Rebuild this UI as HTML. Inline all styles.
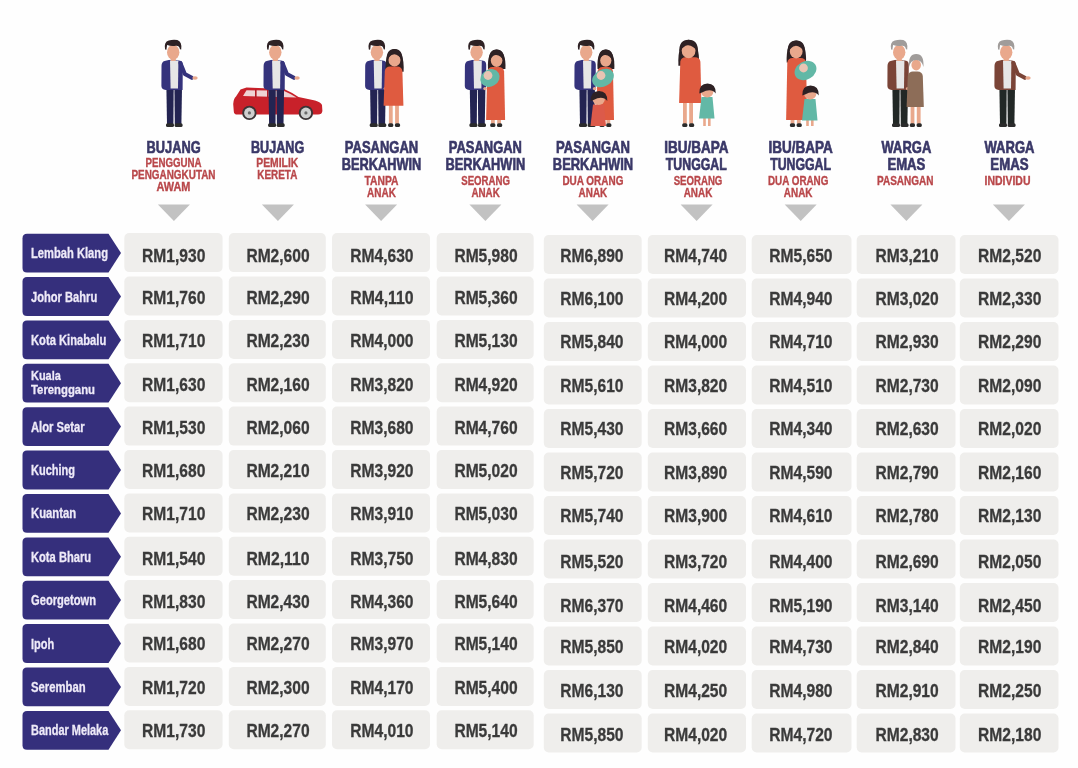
<!DOCTYPE html>
<html><head><meta charset="utf-8"><title>Kos Sara Hidup</title>
<style>
html,body{margin:0;padding:0;background:#ffffff;}
body{width:1078px;height:768px;overflow:hidden;position:relative;}
svg{position:absolute;left:0;top:0;filter:blur(0.35px);}
text{font-family:"Liberation Sans", sans-serif;}
</style></head><body>
<svg width="1078" height="768" viewBox="0 0 1078 768">
<rect width="1078" height="768" fill="#fefefe"/>
<path d="M166.4,88 L173.7,88 L173.4,124 L167.0,124 Z" fill="#232452"/><path d="M174.4,88 L182.0,88 L181.4,124 L174.8,124 Z" fill="#232452"/><rect x="166.0" y="123.2" width="8" height="3.8" rx="1.6" fill="#2b2b2b"/><rect x="174.6" y="123.2" width="8" height="3.8" rx="1.6" fill="#2b2b2b"/><path d="M164.6,61 Q172.8,58.5 181.0,61 Q183.0,62 182.8,66 L182.6,90 L165.8,90 Q161.4,89.5 161.4,86 L161.5,66 Q161.6,61.8 164.6,61 Z" fill="#35337c"/><path d="M170.0,60.5 L178.4,60.5 L178.0,88.5 L170.6,88.5 Z" fill="#e6e6e6"/><path d="M180.4,63 Q183.3,70 184.8,74 L191.8,77.8" stroke="#35337c" stroke-width="4" fill="none" stroke-linejoin="round" stroke-linecap="round"/><ellipse cx="195.0" cy="78" rx="2.7" ry="1.7" fill="#e9a88c"/><rect x="170.8" y="55" width="5" height="6" fill="#e9a88c"/><ellipse cx="173.2" cy="52.2" rx="6.2" ry="7.4" fill="#e9a88c"/><path d="M165.1,49.6 Q163.6,42 168.8,40.6 Q172.8,39.2 177.3,40 Q182.3,41.5 181.2,49.6 L180.0,49.2 Q179.3,45.5 175.8,45.8 Q170.8,46.4 167.1,45 L166.4,49.8 Z" fill="#2e2124"/><path d="M233.8,111.5 L233.2,104 Q233.5,98.5 236,96.5 L240.5,89.5 L246.5,87.6 L284,89 Q291,92 298.5,97 L315,100.5 Q321,102.3 322,105 L322.4,111 Q322,114.6 318,114.6 L237.5,114.6 Q233.8,114.6 233.8,111.5 Z" fill="#c8212a"/><path d="M243,96 L246.5,90.2 L283.5,90.8 Q290,93.5 296.5,97.6 Z" fill="#efd3d3"/><rect x="255" y="89.5" width="1.6" height="8" fill="#b01c24"/><rect x="267" y="89.5" width="1.6" height="8" fill="#b01c24"/><circle cx="249.4" cy="112.9" r="7.2" fill="#3b3436"/><circle cx="249.4" cy="112.9" r="5.3" fill="#cfcfcf"/><circle cx="249.4" cy="112.9" r="1.6" fill="#6a6a6a"/><circle cx="305.9" cy="112.9" r="7.2" fill="#3b3436"/><circle cx="305.9" cy="112.9" r="5.3" fill="#cfcfcf"/><circle cx="305.9" cy="112.9" r="1.6" fill="#6a6a6a"/><path d="M268.5,88 L275.8,88 L275.5,124 L269.1,124 Z" fill="#232452"/><path d="M276.5,88 L284.1,88 L283.5,124 L276.9,124 Z" fill="#232452"/><rect x="268.1" y="123.2" width="8" height="3.8" rx="1.6" fill="#2b2b2b"/><rect x="276.7" y="123.2" width="8" height="3.8" rx="1.6" fill="#2b2b2b"/><path d="M266.7,61 Q274.9,58.5 283.1,61 Q285.1,62 284.9,66 L284.7,90 L267.9,90 Q263.5,89.5 263.5,86 L263.6,66 Q263.7,61.8 266.7,61 Z" fill="#35337c"/><path d="M272.1,60.5 L280.5,60.5 L280.1,88.5 L272.7,88.5 Z" fill="#e6e6e6"/><path d="M282.5,63 Q285.4,70 286.9,74 L293.9,77.8" stroke="#35337c" stroke-width="4" fill="none" stroke-linejoin="round" stroke-linecap="round"/><ellipse cx="297.1" cy="78" rx="2.7" ry="1.7" fill="#e9a88c"/><rect x="272.9" y="55" width="5" height="6" fill="#e9a88c"/><ellipse cx="275.3" cy="52.2" rx="6.2" ry="7.4" fill="#e9a88c"/><path d="M267.2,49.6 Q265.7,42 270.9,40.6 Q274.9,39.2 279.4,40 Q284.4,41.5 283.3,49.6 L282.1,49.2 Q281.4,45.5 277.9,45.8 Q272.9,46.4 269.2,45 L268.5,49.8 Z" fill="#2e2124"/><path d="M370.1,88 L377.4,88 L377.1,124 L370.7,124 Z" fill="#232452"/><path d="M378.1,88 L385.7,88 L385.1,124 L378.5,124 Z" fill="#232452"/><rect x="369.7" y="123.2" width="8" height="3.8" rx="1.6" fill="#2b2b2b"/><rect x="378.3" y="123.2" width="8" height="3.8" rx="1.6" fill="#2b2b2b"/><path d="M368.3,61 Q376.5,58.5 384.7,61 Q386.7,62 386.5,66 L386.3,90 L369.5,90 Q365.1,89.5 365.1,86 L365.2,66 Q365.3,61.8 368.3,61 Z" fill="#35337c"/><path d="M373.7,60.5 L382.1,60.5 L381.7,88.5 L374.3,88.5 Z" fill="#e6e6e6"/><circle cx="385.3" cy="88.6" r="1.7" fill="#e9a88c"/><rect x="374.5" y="55" width="5" height="6" fill="#e9a88c"/><ellipse cx="376.9" cy="52.2" rx="6.2" ry="7.4" fill="#e9a88c"/><path d="M368.8,49.6 Q367.3,42 372.5,40.6 Q376.5,39.2 381.0,40 Q386.0,41.5 384.9,49.6 L383.7,49.2 Q383.0,45.5 379.5,45.8 Q374.5,46.4 370.8,45 L370.1,49.8 Z" fill="#2e2124"/><rect x="388.9" y="103.8" width="3.8" height="20.0" fill="#e9a88c"/><rect x="395.1" y="103.8" width="3.8" height="20.0" fill="#e9a88c"/><rect x="388.1" y="123.2" width="5.2" height="3.8" rx="1.6" fill="#2b2b2b"/><rect x="394.9" y="123.2" width="5.2" height="3.8" rx="1.6" fill="#2b2b2b"/><path d="M385.6,71.7 Q384.6,49.9 394.5,48.9 Q404.6,49.9 403.6,71.7 Z" fill="#2e2124"/><path d="M384.8,70.9 Q385.5,66.4 390.0,66.4 L397.0,66.4 Q401.8,66.4 402.4,70.9 L403.4,105.8 L383.6,105.8 Z" fill="#df5b40"/><ellipse cx="394.5" cy="59.9" rx="6.0" ry="6.6" fill="#e9a88c"/><path d="M386.6,60.9 Q385.9,48.9 394.5,48.9 Q403.1,48.9 402.4,60.9 Q398.5,53.9 393.5,54.4 Q389.5,54.9 386.6,60.9 Z" fill="#2e2124"/><path d="M469.8,88 L477.1,88 L476.8,124 L470.4,124 Z" fill="#232452"/><path d="M477.8,88 L485.4,88 L484.8,124 L478.2,124 Z" fill="#232452"/><rect x="469.4" y="123.2" width="8" height="3.8" rx="1.6" fill="#2b2b2b"/><rect x="478.0" y="123.2" width="8" height="3.8" rx="1.6" fill="#2b2b2b"/><path d="M468.0,61 Q476.2,58.5 484.4,61 Q486.4,62 486.2,66 L486.0,90 L469.2,90 Q464.8,89.5 464.8,86 L464.9,66 Q465.0,61.8 468.0,61 Z" fill="#35337c"/><path d="M473.4,60.5 L481.8,60.5 L481.4,88.5 L474.0,88.5 Z" fill="#e6e6e6"/><circle cx="485.0" cy="88.6" r="1.7" fill="#e9a88c"/><rect x="474.2" y="55" width="5" height="6" fill="#e9a88c"/><ellipse cx="476.6" cy="52.2" rx="6.2" ry="7.4" fill="#e9a88c"/><path d="M468.5,49.6 Q467.0,42 472.2,40.6 Q476.2,39.2 480.7,40 Q485.7,41.5 484.6,49.6 L483.4,49.2 Q482.7,45.5 479.2,45.8 Q474.2,46.4 470.5,45 L469.8,49.8 Z" fill="#2e2124"/><rect x="491.0" y="118.0" width="3.8" height="5.8" fill="#e9a88c"/><rect x="497.2" y="118.0" width="3.8" height="5.8" fill="#e9a88c"/><rect x="490.2" y="123.2" width="5.2" height="3.8" rx="1.6" fill="#2b2b2b"/><rect x="497.0" y="123.2" width="5.2" height="3.8" rx="1.6" fill="#2b2b2b"/><path d="M488.0,69.0 Q487.0,50.5 496.6,49.5 Q506.4,50.5 505.4,69.0 Z" fill="#2e2124"/><path d="M487.3,71.5 Q488.0,67.0 492.5,67.0 L498.7,67.0 Q503.5,67.0 504.1,71.5 L505.1,120.0 L486.1,120.0 Z" fill="#df5b40"/><ellipse cx="496.6" cy="60.5" rx="5.8" ry="6.4" fill="#e9a88c"/><path d="M489.0,61.5 Q488.3,49.5 496.6,49.5 Q504.9,49.5 504.2,61.5 Q500.6,54.5 495.6,55.0 Q491.6,55.5 489.0,61.5 Z" fill="#2e2124"/><ellipse cx="490.0" cy="78.0" rx="10" ry="8.5" fill="#62b8a6" transform="rotate(-30 490.0 78.0)"/><circle cx="488.0" cy="75.5" r="4.4" fill="#e9c4b3"/><path d="M579.4,88 L586.7,88 L586.4,124 L580.0,124 Z" fill="#232452"/><path d="M587.4,88 L595.0,88 L594.4,124 L587.8,124 Z" fill="#232452"/><rect x="579.0" y="123.2" width="8" height="3.8" rx="1.6" fill="#2b2b2b"/><rect x="587.6" y="123.2" width="8" height="3.8" rx="1.6" fill="#2b2b2b"/><path d="M577.6,61 Q585.8,58.5 594.0,61 Q596.0,62 595.8,66 L595.6,90 L578.8,90 Q574.4,89.5 574.4,86 L574.5,66 Q574.6,61.8 577.6,61 Z" fill="#35337c"/><path d="M583.0,60.5 L591.4,60.5 L591.0,88.5 L583.6,88.5 Z" fill="#e6e6e6"/><circle cx="594.6" cy="88.6" r="1.7" fill="#e9a88c"/><rect x="583.8" y="55" width="5" height="6" fill="#e9a88c"/><ellipse cx="586.2" cy="52.2" rx="6.2" ry="7.4" fill="#e9a88c"/><path d="M578.1,49.6 Q576.6,42 581.8,40.6 Q585.8,39.2 590.3,40 Q595.3,41.5 594.2,49.6 L593.0,49.2 Q592.3,45.5 588.8,45.8 Q583.8,46.4 580.1,45 L579.4,49.8 Z" fill="#2e2124"/><rect x="600.2" y="118.0" width="3.8" height="5.8" fill="#e9a88c"/><rect x="606.4" y="118.0" width="3.8" height="5.8" fill="#e9a88c"/><rect x="599.4" y="123.2" width="5.2" height="3.8" rx="1.6" fill="#2b2b2b"/><rect x="606.2" y="123.2" width="5.2" height="3.8" rx="1.6" fill="#2b2b2b"/><path d="M597.5,69.0 Q596.5,50.5 605.8,49.5 Q615.3,50.5 614.3,69.0 Z" fill="#2e2124"/><path d="M597.5,71.5 Q598.2,67.0 602.7,67.0 L607.6,67.0 Q612.4,67.0 613.0,71.5 L614.0,120.0 L596.3,120.0 Z" fill="#df5b40"/><ellipse cx="605.8" cy="60.5" rx="5.6" ry="6.2" fill="#e9a88c"/><path d="M598.5,61.5 Q597.8,49.5 605.8,49.5 Q613.8,49.5 613.1,61.5 Q609.8,54.5 604.8,55.0 Q600.8,55.5 598.5,61.5 Z" fill="#2e2124"/><ellipse cx="603.0" cy="78.0" rx="11.5" ry="8.5" fill="#62b8a6" transform="rotate(-30 603.0 78.0)"/><circle cx="601.0" cy="75.5" r="4.4" fill="#e9c4b3"/><rect x="594.7" y="121.0" width="2.6" height="5.0" fill="#e9a88c"/><rect x="599.5" y="121.0" width="2.6" height="5.0" fill="#e9a88c"/><path d="M593.0,104.5 L604.0,104.5 L606.0,126.0 L590.5,126.0 Z" fill="#dc5a4a"/><ellipse cx="598.7" cy="99.0" rx="6.2" ry="6" fill="#e9a88c"/><path d="M590.8,101.0 Q590.5,91.0 599.0,91.0 Q607.5,91.0 607.3,101.0 Q602.5,95.0 593.5,100.0 Z" fill="#2e2124"/><rect x="683.0" y="101.0" width="3.8" height="22.8" fill="#e9a88c"/><rect x="689.2" y="101.0" width="3.8" height="22.8" fill="#e9a88c"/><rect x="682.2" y="123.2" width="5.2" height="3.8" rx="1.6" fill="#2b2b2b"/><rect x="689.0" y="123.2" width="5.2" height="3.8" rx="1.6" fill="#2b2b2b"/><path d="M678.4,65.8 Q677.4,40.8 688.6,39.8 Q700.0,40.8 699.0,65.8 Z" fill="#2e2124"/><path d="M680.3,61.8 Q681.0,57.3 685.5,57.3 L695.0,57.3 Q699.8,57.3 700.4,61.8 L701.4,103.0 L679.1,103.0 Z" fill="#df5b40"/><ellipse cx="688.6" cy="50.8" rx="6.9" ry="7.5" fill="#e9a88c"/><path d="M679.4,51.8 Q678.7,39.8 688.6,39.8 Q698.5,39.8 697.8,51.8 Q692.6,44.8 687.6,45.3 Q683.6,45.8 679.4,51.8 Z" fill="#2e2124"/><rect x="703.2" y="113.5" width="2.6" height="12.5" fill="#e9a88c"/><rect x="708.0" y="113.5" width="2.6" height="12.5" fill="#e9a88c"/><path d="M701.5,97.0 L712.5,97.0 L714.5,118.5 L699.0,118.5 Z" fill="#62b8a6"/><ellipse cx="707.2" cy="91.5" rx="6.2" ry="6" fill="#e9a88c"/><path d="M699.3,93.5 Q699.0,83.5 707.5,83.5 Q716.0,83.5 715.8,93.5 Q711.0,87.5 702.0,92.5 Z" fill="#2e2124"/><rect x="790.6" y="118.0" width="3.8" height="5.8" fill="#e9a88c"/><rect x="796.9" y="118.0" width="3.8" height="5.8" fill="#e9a88c"/><rect x="789.9" y="123.2" width="5.2" height="3.8" rx="1.6" fill="#2b2b2b"/><rect x="796.6" y="123.2" width="5.2" height="3.8" rx="1.6" fill="#2b2b2b"/><path d="M786.7,62.6 Q785.7,41.4 796.2,40.4 Q807.0,41.4 806.0,62.6 Z" fill="#2e2124"/><path d="M787.3,62.4 Q788.0,57.9 792.5,57.9 L800.7,57.9 Q805.5,57.9 806.1,62.4 L807.1,120.0 L786.1,120.0 Z" fill="#df5b40"/><ellipse cx="796.2" cy="51.4" rx="6.4" ry="7.0" fill="#e9a88c"/><path d="M787.7,52.4 Q787.0,40.4 796.2,40.4 Q805.5,40.4 804.8,52.4 Q800.2,45.4 795.2,45.9 Q791.2,46.4 787.7,52.4 Z" fill="#2e2124"/><ellipse cx="805.5" cy="70.5" rx="11.5" ry="9" fill="#62b8a6" transform="rotate(-30 805.5 70.5)"/><circle cx="803.5" cy="68.0" r="4.4" fill="#e9c4b3"/><rect x="806.2" y="115.5" width="2.6" height="10.5" fill="#e9a88c"/><rect x="811.0" y="115.5" width="2.6" height="10.5" fill="#e9a88c"/><path d="M804.5,99.0 L815.5,99.0 L817.5,120.5 L802.0,120.5 Z" fill="#62b8a6"/><ellipse cx="810.2" cy="93.5" rx="6.2" ry="6" fill="#e9a88c"/><path d="M802.3,95.5 Q802.0,85.5 810.5,85.5 Q819.0,85.5 818.8,95.5 Q814.0,89.5 805.0,94.5 Z" fill="#2e2124"/><path d="M892.4,88 L899.7,88 L899.4,124 L893.0,124 Z" fill="#222826"/><path d="M900.4,88 L908.0,88 L907.4,124 L900.8,124 Z" fill="#222826"/><rect x="892.0" y="123.2" width="8" height="3.8" rx="1.6" fill="#2b2b2b"/><rect x="900.6" y="123.2" width="8" height="3.8" rx="1.6" fill="#2b2b2b"/><path d="M890.6,61 Q898.8,58.5 907.0,61 Q909.0,62 908.8,66 L908.6,90 L891.8,90 Q887.4,89.5 887.4,86 L887.5,66 Q887.6,61.8 890.6,61 Z" fill="#7a4437"/><path d="M896.0,60.5 L904.4,60.5 L904.0,88.5 L896.6,88.5 Z" fill="#e6e6e6"/><circle cx="907.6" cy="88.6" r="1.7" fill="#e9a88c"/><rect x="896.8" y="55" width="5" height="6" fill="#e9a88c"/><ellipse cx="899.2" cy="52.2" rx="6.2" ry="7.4" fill="#e9a88c"/><path d="M891.1,49.6 Q889.6,42 894.8,40.6 Q898.8,39.2 903.3,40 Q908.3,41.5 907.2,49.6 L906.0,49.2 Q905.3,45.5 901.8,45.8 Q896.8,46.4 893.1,45 L892.4,49.8 Z" fill="#a09c9a"/><rect x="910.6" y="105.0" width="3.8" height="18.8" fill="#e9a88c"/><rect x="916.8" y="105.0" width="3.8" height="18.8" fill="#e9a88c"/><rect x="909.8" y="123.2" width="5.2" height="3.8" rx="1.6" fill="#2b2b2b"/><rect x="916.6" y="123.2" width="5.2" height="3.8" rx="1.6" fill="#2b2b2b"/><path d="M907.8,76.0 Q908.5,71.5 913.0,71.5 L917.4,71.5 Q922.2,71.5 922.8,76.0 L923.8,107.0 L906.6,107.0 Z" fill="#8d6d58"/><ellipse cx="916.2" cy="65.0" rx="4.8" ry="5.4" fill="#e9a88c"/><path d="M909.0,67.0 Q908.0,54.0 916.2,54.0 Q924.4,54.0 923.4,67.0 Q921.9,60.0 916.2,60.0 Q910.5,60.0 909.0,67.0 Z" fill="#a09c9a"/><path d="M999.4,88 L1006.7,88 L1006.4,124 L1000.0,124 Z" fill="#222826"/><path d="M1007.4,88 L1015.0,88 L1014.4,124 L1007.8,124 Z" fill="#222826"/><rect x="999.0" y="123.2" width="8" height="3.8" rx="1.6" fill="#2b2b2b"/><rect x="1007.6" y="123.2" width="8" height="3.8" rx="1.6" fill="#2b2b2b"/><path d="M997.6,61 Q1005.8,58.5 1014.0,61 Q1016.0,62 1015.8,66 L1015.6,90 L998.8,90 Q994.4,89.5 994.4,86 L994.5,66 Q994.6,61.8 997.6,61 Z" fill="#7a4437"/><path d="M1003.0,60.5 L1011.4,60.5 L1011.0,88.5 L1003.6,88.5 Z" fill="#e6e6e6"/><path d="M1013.4,63 Q1016.3,70 1017.8,74 L1024.8,77.8" stroke="#7a4437" stroke-width="4" fill="none" stroke-linejoin="round" stroke-linecap="round"/><ellipse cx="1028.0" cy="78" rx="2.7" ry="1.7" fill="#e9a88c"/><rect x="1003.8" y="55" width="5" height="6" fill="#e9a88c"/><ellipse cx="1006.2" cy="52.2" rx="6.2" ry="7.4" fill="#e9a88c"/><path d="M998.1,49.6 Q996.6,42 1001.8,40.6 Q1005.8,39.2 1010.3,40 Q1015.3,41.5 1014.2,49.6 L1013.0,49.2 Q1012.3,45.5 1008.8,45.8 Q1003.8,46.4 1000.1,45 L999.4,49.8 Z" fill="#a09c9a"/>
<rect x="124.3" y="233.1" width="98.3" height="39.0" rx="5" fill="#efeeec"/><text x="173.7" y="261.8" font-size="18.6" textLength="63.2" lengthAdjust="spacingAndGlyphs" text-anchor="middle" fill="#3a3a3a" stroke="#3a3a3a" stroke-width="0.3" font-weight="bold">RM1,930</text><rect x="228.8" y="233.1" width="97.0" height="39.0" rx="5" fill="#efeeec"/><text x="278.0" y="261.8" font-size="18.6" textLength="63.2" lengthAdjust="spacingAndGlyphs" text-anchor="middle" fill="#3a3a3a" stroke="#3a3a3a" stroke-width="0.3" font-weight="bold">RM2,600</text><rect x="332.0" y="233.1" width="98.0" height="39.0" rx="5" fill="#efeeec"/><text x="381.9" y="261.8" font-size="18.6" textLength="63.2" lengthAdjust="spacingAndGlyphs" text-anchor="middle" fill="#3a3a3a" stroke="#3a3a3a" stroke-width="0.3" font-weight="bold">RM4,630</text><rect x="436.7" y="233.1" width="97.0" height="39.0" rx="5" fill="#efeeec"/><text x="486.0" y="261.8" font-size="18.6" textLength="63.2" lengthAdjust="spacingAndGlyphs" text-anchor="middle" fill="#3a3a3a" stroke="#3a3a3a" stroke-width="0.3" font-weight="bold">RM5,980</text><rect x="543.8" y="235.0" width="97.9" height="39.0" rx="5" fill="#efeeec"/><text x="591.9" y="262.4" font-size="18.6" textLength="63.2" lengthAdjust="spacingAndGlyphs" text-anchor="middle" fill="#3a3a3a" stroke="#3a3a3a" stroke-width="0.3" font-weight="bold">RM6,890</text><rect x="647.8" y="235.0" width="98.2" height="39.0" rx="5" fill="#efeeec"/><text x="695.6" y="262.4" font-size="18.6" textLength="63.2" lengthAdjust="spacingAndGlyphs" text-anchor="middle" fill="#3a3a3a" stroke="#3a3a3a" stroke-width="0.3" font-weight="bold">RM4,740</text><rect x="751.7" y="235.0" width="99.8" height="39.0" rx="5" fill="#efeeec"/><text x="800.9" y="262.4" font-size="18.6" textLength="63.2" lengthAdjust="spacingAndGlyphs" text-anchor="middle" fill="#3a3a3a" stroke="#3a3a3a" stroke-width="0.3" font-weight="bold">RM5,650</text><rect x="856.7" y="235.0" width="98.8" height="39.0" rx="5" fill="#efeeec"/><text x="907.1" y="262.4" font-size="18.6" textLength="63.2" lengthAdjust="spacingAndGlyphs" text-anchor="middle" fill="#3a3a3a" stroke="#3a3a3a" stroke-width="0.3" font-weight="bold">RM3,210</text><rect x="959.8" y="235.0" width="98.7" height="39.0" rx="5" fill="#efeeec"/><text x="1009.7" y="262.4" font-size="18.6" textLength="63.2" lengthAdjust="spacingAndGlyphs" text-anchor="middle" fill="#3a3a3a" stroke="#3a3a3a" stroke-width="0.3" font-weight="bold">RM2,520</text><rect x="124.3" y="276.5" width="98.3" height="39.0" rx="5" fill="#efeeec"/><text x="173.7" y="304.3" font-size="18.6" textLength="63.2" lengthAdjust="spacingAndGlyphs" text-anchor="middle" fill="#3a3a3a" stroke="#3a3a3a" stroke-width="0.3" font-weight="bold">RM1,760</text><rect x="228.8" y="276.5" width="97.0" height="39.0" rx="5" fill="#efeeec"/><text x="278.0" y="304.3" font-size="18.6" textLength="63.2" lengthAdjust="spacingAndGlyphs" text-anchor="middle" fill="#3a3a3a" stroke="#3a3a3a" stroke-width="0.3" font-weight="bold">RM2,290</text><rect x="332.0" y="276.5" width="98.0" height="39.0" rx="5" fill="#efeeec"/><text x="381.9" y="304.3" font-size="18.6" textLength="63.2" lengthAdjust="spacingAndGlyphs" text-anchor="middle" fill="#3a3a3a" stroke="#3a3a3a" stroke-width="0.3" font-weight="bold">RM4,110</text><rect x="436.7" y="276.5" width="97.0" height="39.0" rx="5" fill="#efeeec"/><text x="486.0" y="304.3" font-size="18.6" textLength="63.2" lengthAdjust="spacingAndGlyphs" text-anchor="middle" fill="#3a3a3a" stroke="#3a3a3a" stroke-width="0.3" font-weight="bold">RM5,360</text><rect x="543.8" y="278.5" width="97.9" height="39.0" rx="5" fill="#efeeec"/><text x="591.9" y="305.2" font-size="18.6" textLength="63.2" lengthAdjust="spacingAndGlyphs" text-anchor="middle" fill="#3a3a3a" stroke="#3a3a3a" stroke-width="0.3" font-weight="bold">RM6,100</text><rect x="647.8" y="278.5" width="98.2" height="39.0" rx="5" fill="#efeeec"/><text x="695.6" y="305.2" font-size="18.6" textLength="63.2" lengthAdjust="spacingAndGlyphs" text-anchor="middle" fill="#3a3a3a" stroke="#3a3a3a" stroke-width="0.3" font-weight="bold">RM4,200</text><rect x="751.7" y="278.5" width="99.8" height="39.0" rx="5" fill="#efeeec"/><text x="800.9" y="305.2" font-size="18.6" textLength="63.2" lengthAdjust="spacingAndGlyphs" text-anchor="middle" fill="#3a3a3a" stroke="#3a3a3a" stroke-width="0.3" font-weight="bold">RM4,940</text><rect x="856.7" y="278.5" width="98.8" height="39.0" rx="5" fill="#efeeec"/><text x="907.1" y="305.2" font-size="18.6" textLength="63.2" lengthAdjust="spacingAndGlyphs" text-anchor="middle" fill="#3a3a3a" stroke="#3a3a3a" stroke-width="0.3" font-weight="bold">RM3,020</text><rect x="959.8" y="278.5" width="98.7" height="39.0" rx="5" fill="#efeeec"/><text x="1009.7" y="305.2" font-size="18.6" textLength="63.2" lengthAdjust="spacingAndGlyphs" text-anchor="middle" fill="#3a3a3a" stroke="#3a3a3a" stroke-width="0.3" font-weight="bold">RM2,330</text><rect x="124.3" y="319.9" width="98.3" height="39.0" rx="5" fill="#efeeec"/><text x="173.7" y="347.3" font-size="18.6" textLength="63.2" lengthAdjust="spacingAndGlyphs" text-anchor="middle" fill="#3a3a3a" stroke="#3a3a3a" stroke-width="0.3" font-weight="bold">RM1,710</text><rect x="228.8" y="319.9" width="97.0" height="39.0" rx="5" fill="#efeeec"/><text x="278.0" y="347.3" font-size="18.6" textLength="63.2" lengthAdjust="spacingAndGlyphs" text-anchor="middle" fill="#3a3a3a" stroke="#3a3a3a" stroke-width="0.3" font-weight="bold">RM2,230</text><rect x="332.0" y="319.9" width="98.0" height="39.0" rx="5" fill="#efeeec"/><text x="381.9" y="347.3" font-size="18.6" textLength="63.2" lengthAdjust="spacingAndGlyphs" text-anchor="middle" fill="#3a3a3a" stroke="#3a3a3a" stroke-width="0.3" font-weight="bold">RM4,000</text><rect x="436.7" y="319.9" width="97.0" height="39.0" rx="5" fill="#efeeec"/><text x="486.0" y="347.3" font-size="18.6" textLength="63.2" lengthAdjust="spacingAndGlyphs" text-anchor="middle" fill="#3a3a3a" stroke="#3a3a3a" stroke-width="0.3" font-weight="bold">RM5,130</text><rect x="543.8" y="322.0" width="97.9" height="39.0" rx="5" fill="#efeeec"/><text x="591.9" y="347.8" font-size="18.6" textLength="63.2" lengthAdjust="spacingAndGlyphs" text-anchor="middle" fill="#3a3a3a" stroke="#3a3a3a" stroke-width="0.3" font-weight="bold">RM5,840</text><rect x="647.8" y="322.0" width="98.2" height="39.0" rx="5" fill="#efeeec"/><text x="695.6" y="347.8" font-size="18.6" textLength="63.2" lengthAdjust="spacingAndGlyphs" text-anchor="middle" fill="#3a3a3a" stroke="#3a3a3a" stroke-width="0.3" font-weight="bold">RM4,000</text><rect x="751.7" y="322.0" width="99.8" height="39.0" rx="5" fill="#efeeec"/><text x="800.9" y="347.8" font-size="18.6" textLength="63.2" lengthAdjust="spacingAndGlyphs" text-anchor="middle" fill="#3a3a3a" stroke="#3a3a3a" stroke-width="0.3" font-weight="bold">RM4,710</text><rect x="856.7" y="322.0" width="98.8" height="39.0" rx="5" fill="#efeeec"/><text x="907.1" y="347.8" font-size="18.6" textLength="63.2" lengthAdjust="spacingAndGlyphs" text-anchor="middle" fill="#3a3a3a" stroke="#3a3a3a" stroke-width="0.3" font-weight="bold">RM2,930</text><rect x="959.8" y="322.0" width="98.7" height="39.0" rx="5" fill="#efeeec"/><text x="1009.7" y="347.8" font-size="18.6" textLength="63.2" lengthAdjust="spacingAndGlyphs" text-anchor="middle" fill="#3a3a3a" stroke="#3a3a3a" stroke-width="0.3" font-weight="bold">RM2,290</text><rect x="124.3" y="363.2" width="98.3" height="39.0" rx="5" fill="#efeeec"/><text x="173.7" y="390.8" font-size="18.6" textLength="63.2" lengthAdjust="spacingAndGlyphs" text-anchor="middle" fill="#3a3a3a" stroke="#3a3a3a" stroke-width="0.3" font-weight="bold">RM1,630</text><rect x="228.8" y="363.2" width="97.0" height="39.0" rx="5" fill="#efeeec"/><text x="278.0" y="390.8" font-size="18.6" textLength="63.2" lengthAdjust="spacingAndGlyphs" text-anchor="middle" fill="#3a3a3a" stroke="#3a3a3a" stroke-width="0.3" font-weight="bold">RM2,160</text><rect x="332.0" y="363.2" width="98.0" height="39.0" rx="5" fill="#efeeec"/><text x="381.9" y="390.8" font-size="18.6" textLength="63.2" lengthAdjust="spacingAndGlyphs" text-anchor="middle" fill="#3a3a3a" stroke="#3a3a3a" stroke-width="0.3" font-weight="bold">RM3,820</text><rect x="436.7" y="363.2" width="97.0" height="39.0" rx="5" fill="#efeeec"/><text x="486.0" y="390.8" font-size="18.6" textLength="63.2" lengthAdjust="spacingAndGlyphs" text-anchor="middle" fill="#3a3a3a" stroke="#3a3a3a" stroke-width="0.3" font-weight="bold">RM4,920</text><rect x="543.8" y="365.5" width="97.9" height="39.0" rx="5" fill="#efeeec"/><text x="591.9" y="391.5" font-size="18.6" textLength="63.2" lengthAdjust="spacingAndGlyphs" text-anchor="middle" fill="#3a3a3a" stroke="#3a3a3a" stroke-width="0.3" font-weight="bold">RM5,610</text><rect x="647.8" y="365.5" width="98.2" height="39.0" rx="5" fill="#efeeec"/><text x="695.6" y="391.5" font-size="18.6" textLength="63.2" lengthAdjust="spacingAndGlyphs" text-anchor="middle" fill="#3a3a3a" stroke="#3a3a3a" stroke-width="0.3" font-weight="bold">RM3,820</text><rect x="751.7" y="365.5" width="99.8" height="39.0" rx="5" fill="#efeeec"/><text x="800.9" y="391.5" font-size="18.6" textLength="63.2" lengthAdjust="spacingAndGlyphs" text-anchor="middle" fill="#3a3a3a" stroke="#3a3a3a" stroke-width="0.3" font-weight="bold">RM4,510</text><rect x="856.7" y="365.5" width="98.8" height="39.0" rx="5" fill="#efeeec"/><text x="907.1" y="391.5" font-size="18.6" textLength="63.2" lengthAdjust="spacingAndGlyphs" text-anchor="middle" fill="#3a3a3a" stroke="#3a3a3a" stroke-width="0.3" font-weight="bold">RM2,730</text><rect x="959.8" y="365.5" width="98.7" height="39.0" rx="5" fill="#efeeec"/><text x="1009.7" y="391.5" font-size="18.6" textLength="63.2" lengthAdjust="spacingAndGlyphs" text-anchor="middle" fill="#3a3a3a" stroke="#3a3a3a" stroke-width="0.3" font-weight="bold">RM2,090</text><rect x="124.3" y="406.6" width="98.3" height="39.0" rx="5" fill="#efeeec"/><text x="173.7" y="433.5" font-size="18.6" textLength="63.2" lengthAdjust="spacingAndGlyphs" text-anchor="middle" fill="#3a3a3a" stroke="#3a3a3a" stroke-width="0.3" font-weight="bold">RM1,530</text><rect x="228.8" y="406.6" width="97.0" height="39.0" rx="5" fill="#efeeec"/><text x="278.0" y="433.5" font-size="18.6" textLength="63.2" lengthAdjust="spacingAndGlyphs" text-anchor="middle" fill="#3a3a3a" stroke="#3a3a3a" stroke-width="0.3" font-weight="bold">RM2,060</text><rect x="332.0" y="406.6" width="98.0" height="39.0" rx="5" fill="#efeeec"/><text x="381.9" y="433.5" font-size="18.6" textLength="63.2" lengthAdjust="spacingAndGlyphs" text-anchor="middle" fill="#3a3a3a" stroke="#3a3a3a" stroke-width="0.3" font-weight="bold">RM3,680</text><rect x="436.7" y="406.6" width="97.0" height="39.0" rx="5" fill="#efeeec"/><text x="486.0" y="433.5" font-size="18.6" textLength="63.2" lengthAdjust="spacingAndGlyphs" text-anchor="middle" fill="#3a3a3a" stroke="#3a3a3a" stroke-width="0.3" font-weight="bold">RM4,760</text><rect x="543.8" y="409.0" width="97.9" height="39.0" rx="5" fill="#efeeec"/><text x="591.9" y="435.0" font-size="18.6" textLength="63.2" lengthAdjust="spacingAndGlyphs" text-anchor="middle" fill="#3a3a3a" stroke="#3a3a3a" stroke-width="0.3" font-weight="bold">RM5,430</text><rect x="647.8" y="409.0" width="98.2" height="39.0" rx="5" fill="#efeeec"/><text x="695.6" y="435.0" font-size="18.6" textLength="63.2" lengthAdjust="spacingAndGlyphs" text-anchor="middle" fill="#3a3a3a" stroke="#3a3a3a" stroke-width="0.3" font-weight="bold">RM3,660</text><rect x="751.7" y="409.0" width="99.8" height="39.0" rx="5" fill="#efeeec"/><text x="800.9" y="435.0" font-size="18.6" textLength="63.2" lengthAdjust="spacingAndGlyphs" text-anchor="middle" fill="#3a3a3a" stroke="#3a3a3a" stroke-width="0.3" font-weight="bold">RM4,340</text><rect x="856.7" y="409.0" width="98.8" height="39.0" rx="5" fill="#efeeec"/><text x="907.1" y="435.0" font-size="18.6" textLength="63.2" lengthAdjust="spacingAndGlyphs" text-anchor="middle" fill="#3a3a3a" stroke="#3a3a3a" stroke-width="0.3" font-weight="bold">RM2,630</text><rect x="959.8" y="409.0" width="98.7" height="39.0" rx="5" fill="#efeeec"/><text x="1009.7" y="435.0" font-size="18.6" textLength="63.2" lengthAdjust="spacingAndGlyphs" text-anchor="middle" fill="#3a3a3a" stroke="#3a3a3a" stroke-width="0.3" font-weight="bold">RM2,020</text><rect x="124.3" y="450.0" width="98.3" height="39.0" rx="5" fill="#efeeec"/><text x="173.7" y="476.8" font-size="18.6" textLength="63.2" lengthAdjust="spacingAndGlyphs" text-anchor="middle" fill="#3a3a3a" stroke="#3a3a3a" stroke-width="0.3" font-weight="bold">RM1,680</text><rect x="228.8" y="450.0" width="97.0" height="39.0" rx="5" fill="#efeeec"/><text x="278.0" y="476.8" font-size="18.6" textLength="63.2" lengthAdjust="spacingAndGlyphs" text-anchor="middle" fill="#3a3a3a" stroke="#3a3a3a" stroke-width="0.3" font-weight="bold">RM2,210</text><rect x="332.0" y="450.0" width="98.0" height="39.0" rx="5" fill="#efeeec"/><text x="381.9" y="476.8" font-size="18.6" textLength="63.2" lengthAdjust="spacingAndGlyphs" text-anchor="middle" fill="#3a3a3a" stroke="#3a3a3a" stroke-width="0.3" font-weight="bold">RM3,920</text><rect x="436.7" y="450.0" width="97.0" height="39.0" rx="5" fill="#efeeec"/><text x="486.0" y="476.8" font-size="18.6" textLength="63.2" lengthAdjust="spacingAndGlyphs" text-anchor="middle" fill="#3a3a3a" stroke="#3a3a3a" stroke-width="0.3" font-weight="bold">RM5,020</text><rect x="543.8" y="452.5" width="97.9" height="39.0" rx="5" fill="#efeeec"/><text x="591.9" y="478.5" font-size="18.6" textLength="63.2" lengthAdjust="spacingAndGlyphs" text-anchor="middle" fill="#3a3a3a" stroke="#3a3a3a" stroke-width="0.3" font-weight="bold">RM5,720</text><rect x="647.8" y="452.5" width="98.2" height="39.0" rx="5" fill="#efeeec"/><text x="695.6" y="478.5" font-size="18.6" textLength="63.2" lengthAdjust="spacingAndGlyphs" text-anchor="middle" fill="#3a3a3a" stroke="#3a3a3a" stroke-width="0.3" font-weight="bold">RM3,890</text><rect x="751.7" y="452.5" width="99.8" height="39.0" rx="5" fill="#efeeec"/><text x="800.9" y="478.5" font-size="18.6" textLength="63.2" lengthAdjust="spacingAndGlyphs" text-anchor="middle" fill="#3a3a3a" stroke="#3a3a3a" stroke-width="0.3" font-weight="bold">RM4,590</text><rect x="856.7" y="452.5" width="98.8" height="39.0" rx="5" fill="#efeeec"/><text x="907.1" y="478.5" font-size="18.6" textLength="63.2" lengthAdjust="spacingAndGlyphs" text-anchor="middle" fill="#3a3a3a" stroke="#3a3a3a" stroke-width="0.3" font-weight="bold">RM2,790</text><rect x="959.8" y="452.5" width="98.7" height="39.0" rx="5" fill="#efeeec"/><text x="1009.7" y="478.5" font-size="18.6" textLength="63.2" lengthAdjust="spacingAndGlyphs" text-anchor="middle" fill="#3a3a3a" stroke="#3a3a3a" stroke-width="0.3" font-weight="bold">RM2,160</text><rect x="124.3" y="493.4" width="98.3" height="39.0" rx="5" fill="#efeeec"/><text x="173.7" y="519.8" font-size="18.6" textLength="63.2" lengthAdjust="spacingAndGlyphs" text-anchor="middle" fill="#3a3a3a" stroke="#3a3a3a" stroke-width="0.3" font-weight="bold">RM1,710</text><rect x="228.8" y="493.4" width="97.0" height="39.0" rx="5" fill="#efeeec"/><text x="278.0" y="519.8" font-size="18.6" textLength="63.2" lengthAdjust="spacingAndGlyphs" text-anchor="middle" fill="#3a3a3a" stroke="#3a3a3a" stroke-width="0.3" font-weight="bold">RM2,230</text><rect x="332.0" y="493.4" width="98.0" height="39.0" rx="5" fill="#efeeec"/><text x="381.9" y="519.8" font-size="18.6" textLength="63.2" lengthAdjust="spacingAndGlyphs" text-anchor="middle" fill="#3a3a3a" stroke="#3a3a3a" stroke-width="0.3" font-weight="bold">RM3,910</text><rect x="436.7" y="493.4" width="97.0" height="39.0" rx="5" fill="#efeeec"/><text x="486.0" y="519.8" font-size="18.6" textLength="63.2" lengthAdjust="spacingAndGlyphs" text-anchor="middle" fill="#3a3a3a" stroke="#3a3a3a" stroke-width="0.3" font-weight="bold">RM5,030</text><rect x="543.8" y="496.0" width="97.9" height="39.0" rx="5" fill="#efeeec"/><text x="591.9" y="522.2" font-size="18.6" textLength="63.2" lengthAdjust="spacingAndGlyphs" text-anchor="middle" fill="#3a3a3a" stroke="#3a3a3a" stroke-width="0.3" font-weight="bold">RM5,740</text><rect x="647.8" y="496.0" width="98.2" height="39.0" rx="5" fill="#efeeec"/><text x="695.6" y="522.2" font-size="18.6" textLength="63.2" lengthAdjust="spacingAndGlyphs" text-anchor="middle" fill="#3a3a3a" stroke="#3a3a3a" stroke-width="0.3" font-weight="bold">RM3,900</text><rect x="751.7" y="496.0" width="99.8" height="39.0" rx="5" fill="#efeeec"/><text x="800.9" y="522.2" font-size="18.6" textLength="63.2" lengthAdjust="spacingAndGlyphs" text-anchor="middle" fill="#3a3a3a" stroke="#3a3a3a" stroke-width="0.3" font-weight="bold">RM4,610</text><rect x="856.7" y="496.0" width="98.8" height="39.0" rx="5" fill="#efeeec"/><text x="907.1" y="522.2" font-size="18.6" textLength="63.2" lengthAdjust="spacingAndGlyphs" text-anchor="middle" fill="#3a3a3a" stroke="#3a3a3a" stroke-width="0.3" font-weight="bold">RM2,780</text><rect x="959.8" y="496.0" width="98.7" height="39.0" rx="5" fill="#efeeec"/><text x="1009.7" y="522.2" font-size="18.6" textLength="63.2" lengthAdjust="spacingAndGlyphs" text-anchor="middle" fill="#3a3a3a" stroke="#3a3a3a" stroke-width="0.3" font-weight="bold">RM2,130</text><rect x="124.3" y="536.8" width="98.3" height="39.0" rx="5" fill="#efeeec"/><text x="173.7" y="565.0" font-size="18.6" textLength="63.2" lengthAdjust="spacingAndGlyphs" text-anchor="middle" fill="#3a3a3a" stroke="#3a3a3a" stroke-width="0.3" font-weight="bold">RM1,540</text><rect x="228.8" y="536.8" width="97.0" height="39.0" rx="5" fill="#efeeec"/><text x="278.0" y="565.0" font-size="18.6" textLength="63.2" lengthAdjust="spacingAndGlyphs" text-anchor="middle" fill="#3a3a3a" stroke="#3a3a3a" stroke-width="0.3" font-weight="bold">RM2,110</text><rect x="332.0" y="536.8" width="98.0" height="39.0" rx="5" fill="#efeeec"/><text x="381.9" y="565.0" font-size="18.6" textLength="63.2" lengthAdjust="spacingAndGlyphs" text-anchor="middle" fill="#3a3a3a" stroke="#3a3a3a" stroke-width="0.3" font-weight="bold">RM3,750</text><rect x="436.7" y="536.8" width="97.0" height="39.0" rx="5" fill="#efeeec"/><text x="486.0" y="565.0" font-size="18.6" textLength="63.2" lengthAdjust="spacingAndGlyphs" text-anchor="middle" fill="#3a3a3a" stroke="#3a3a3a" stroke-width="0.3" font-weight="bold">RM4,830</text><rect x="543.8" y="539.5" width="97.9" height="39.0" rx="5" fill="#efeeec"/><text x="591.9" y="567.8" font-size="18.6" textLength="63.2" lengthAdjust="spacingAndGlyphs" text-anchor="middle" fill="#3a3a3a" stroke="#3a3a3a" stroke-width="0.3" font-weight="bold">RM5,520</text><rect x="647.8" y="539.5" width="98.2" height="39.0" rx="5" fill="#efeeec"/><text x="695.6" y="567.8" font-size="18.6" textLength="63.2" lengthAdjust="spacingAndGlyphs" text-anchor="middle" fill="#3a3a3a" stroke="#3a3a3a" stroke-width="0.3" font-weight="bold">RM3,720</text><rect x="751.7" y="539.5" width="99.8" height="39.0" rx="5" fill="#efeeec"/><text x="800.9" y="567.8" font-size="18.6" textLength="63.2" lengthAdjust="spacingAndGlyphs" text-anchor="middle" fill="#3a3a3a" stroke="#3a3a3a" stroke-width="0.3" font-weight="bold">RM4,400</text><rect x="856.7" y="539.5" width="98.8" height="39.0" rx="5" fill="#efeeec"/><text x="907.1" y="567.8" font-size="18.6" textLength="63.2" lengthAdjust="spacingAndGlyphs" text-anchor="middle" fill="#3a3a3a" stroke="#3a3a3a" stroke-width="0.3" font-weight="bold">RM2,690</text><rect x="959.8" y="539.5" width="98.7" height="39.0" rx="5" fill="#efeeec"/><text x="1009.7" y="567.8" font-size="18.6" textLength="63.2" lengthAdjust="spacingAndGlyphs" text-anchor="middle" fill="#3a3a3a" stroke="#3a3a3a" stroke-width="0.3" font-weight="bold">RM2,050</text><rect x="124.3" y="580.1" width="98.3" height="39.0" rx="5" fill="#efeeec"/><text x="173.7" y="608.2" font-size="18.6" textLength="63.2" lengthAdjust="spacingAndGlyphs" text-anchor="middle" fill="#3a3a3a" stroke="#3a3a3a" stroke-width="0.3" font-weight="bold">RM1,830</text><rect x="228.8" y="580.1" width="97.0" height="39.0" rx="5" fill="#efeeec"/><text x="278.0" y="608.2" font-size="18.6" textLength="63.2" lengthAdjust="spacingAndGlyphs" text-anchor="middle" fill="#3a3a3a" stroke="#3a3a3a" stroke-width="0.3" font-weight="bold">RM2,430</text><rect x="332.0" y="580.1" width="98.0" height="39.0" rx="5" fill="#efeeec"/><text x="381.9" y="608.2" font-size="18.6" textLength="63.2" lengthAdjust="spacingAndGlyphs" text-anchor="middle" fill="#3a3a3a" stroke="#3a3a3a" stroke-width="0.3" font-weight="bold">RM4,360</text><rect x="436.7" y="580.1" width="97.0" height="39.0" rx="5" fill="#efeeec"/><text x="486.0" y="608.2" font-size="18.6" textLength="63.2" lengthAdjust="spacingAndGlyphs" text-anchor="middle" fill="#3a3a3a" stroke="#3a3a3a" stroke-width="0.3" font-weight="bold">RM5,640</text><rect x="543.8" y="583.0" width="97.9" height="39.0" rx="5" fill="#efeeec"/><text x="591.9" y="611.5" font-size="18.6" textLength="63.2" lengthAdjust="spacingAndGlyphs" text-anchor="middle" fill="#3a3a3a" stroke="#3a3a3a" stroke-width="0.3" font-weight="bold">RM6,370</text><rect x="647.8" y="583.0" width="98.2" height="39.0" rx="5" fill="#efeeec"/><text x="695.6" y="611.5" font-size="18.6" textLength="63.2" lengthAdjust="spacingAndGlyphs" text-anchor="middle" fill="#3a3a3a" stroke="#3a3a3a" stroke-width="0.3" font-weight="bold">RM4,460</text><rect x="751.7" y="583.0" width="99.8" height="39.0" rx="5" fill="#efeeec"/><text x="800.9" y="611.5" font-size="18.6" textLength="63.2" lengthAdjust="spacingAndGlyphs" text-anchor="middle" fill="#3a3a3a" stroke="#3a3a3a" stroke-width="0.3" font-weight="bold">RM5,190</text><rect x="856.7" y="583.0" width="98.8" height="39.0" rx="5" fill="#efeeec"/><text x="907.1" y="611.5" font-size="18.6" textLength="63.2" lengthAdjust="spacingAndGlyphs" text-anchor="middle" fill="#3a3a3a" stroke="#3a3a3a" stroke-width="0.3" font-weight="bold">RM3,140</text><rect x="959.8" y="583.0" width="98.7" height="39.0" rx="5" fill="#efeeec"/><text x="1009.7" y="611.5" font-size="18.6" textLength="63.2" lengthAdjust="spacingAndGlyphs" text-anchor="middle" fill="#3a3a3a" stroke="#3a3a3a" stroke-width="0.3" font-weight="bold">RM2,450</text><rect x="124.3" y="623.5" width="98.3" height="39.0" rx="5" fill="#efeeec"/><text x="173.7" y="650.0" font-size="18.6" textLength="63.2" lengthAdjust="spacingAndGlyphs" text-anchor="middle" fill="#3a3a3a" stroke="#3a3a3a" stroke-width="0.3" font-weight="bold">RM1,680</text><rect x="228.8" y="623.5" width="97.0" height="39.0" rx="5" fill="#efeeec"/><text x="278.0" y="650.0" font-size="18.6" textLength="63.2" lengthAdjust="spacingAndGlyphs" text-anchor="middle" fill="#3a3a3a" stroke="#3a3a3a" stroke-width="0.3" font-weight="bold">RM2,270</text><rect x="332.0" y="623.5" width="98.0" height="39.0" rx="5" fill="#efeeec"/><text x="381.9" y="650.0" font-size="18.6" textLength="63.2" lengthAdjust="spacingAndGlyphs" text-anchor="middle" fill="#3a3a3a" stroke="#3a3a3a" stroke-width="0.3" font-weight="bold">RM3,970</text><rect x="436.7" y="623.5" width="97.0" height="39.0" rx="5" fill="#efeeec"/><text x="486.0" y="650.0" font-size="18.6" textLength="63.2" lengthAdjust="spacingAndGlyphs" text-anchor="middle" fill="#3a3a3a" stroke="#3a3a3a" stroke-width="0.3" font-weight="bold">RM5,140</text><rect x="543.8" y="626.5" width="97.9" height="39.0" rx="5" fill="#efeeec"/><text x="591.9" y="653.0" font-size="18.6" textLength="63.2" lengthAdjust="spacingAndGlyphs" text-anchor="middle" fill="#3a3a3a" stroke="#3a3a3a" stroke-width="0.3" font-weight="bold">RM5,850</text><rect x="647.8" y="626.5" width="98.2" height="39.0" rx="5" fill="#efeeec"/><text x="695.6" y="653.0" font-size="18.6" textLength="63.2" lengthAdjust="spacingAndGlyphs" text-anchor="middle" fill="#3a3a3a" stroke="#3a3a3a" stroke-width="0.3" font-weight="bold">RM4,020</text><rect x="751.7" y="626.5" width="99.8" height="39.0" rx="5" fill="#efeeec"/><text x="800.9" y="653.0" font-size="18.6" textLength="63.2" lengthAdjust="spacingAndGlyphs" text-anchor="middle" fill="#3a3a3a" stroke="#3a3a3a" stroke-width="0.3" font-weight="bold">RM4,730</text><rect x="856.7" y="626.5" width="98.8" height="39.0" rx="5" fill="#efeeec"/><text x="907.1" y="653.0" font-size="18.6" textLength="63.2" lengthAdjust="spacingAndGlyphs" text-anchor="middle" fill="#3a3a3a" stroke="#3a3a3a" stroke-width="0.3" font-weight="bold">RM2,840</text><rect x="959.8" y="626.5" width="98.7" height="39.0" rx="5" fill="#efeeec"/><text x="1009.7" y="653.0" font-size="18.6" textLength="63.2" lengthAdjust="spacingAndGlyphs" text-anchor="middle" fill="#3a3a3a" stroke="#3a3a3a" stroke-width="0.3" font-weight="bold">RM2,190</text><rect x="124.3" y="666.9" width="98.3" height="39.0" rx="5" fill="#efeeec"/><text x="173.7" y="694.0" font-size="18.6" textLength="63.2" lengthAdjust="spacingAndGlyphs" text-anchor="middle" fill="#3a3a3a" stroke="#3a3a3a" stroke-width="0.3" font-weight="bold">RM1,720</text><rect x="228.8" y="666.9" width="97.0" height="39.0" rx="5" fill="#efeeec"/><text x="278.0" y="694.0" font-size="18.6" textLength="63.2" lengthAdjust="spacingAndGlyphs" text-anchor="middle" fill="#3a3a3a" stroke="#3a3a3a" stroke-width="0.3" font-weight="bold">RM2,300</text><rect x="332.0" y="666.9" width="98.0" height="39.0" rx="5" fill="#efeeec"/><text x="381.9" y="694.0" font-size="18.6" textLength="63.2" lengthAdjust="spacingAndGlyphs" text-anchor="middle" fill="#3a3a3a" stroke="#3a3a3a" stroke-width="0.3" font-weight="bold">RM4,170</text><rect x="436.7" y="666.9" width="97.0" height="39.0" rx="5" fill="#efeeec"/><text x="486.0" y="694.0" font-size="18.6" textLength="63.2" lengthAdjust="spacingAndGlyphs" text-anchor="middle" fill="#3a3a3a" stroke="#3a3a3a" stroke-width="0.3" font-weight="bold">RM5,400</text><rect x="543.8" y="670.0" width="97.9" height="39.0" rx="5" fill="#efeeec"/><text x="591.9" y="697.0" font-size="18.6" textLength="63.2" lengthAdjust="spacingAndGlyphs" text-anchor="middle" fill="#3a3a3a" stroke="#3a3a3a" stroke-width="0.3" font-weight="bold">RM6,130</text><rect x="647.8" y="670.0" width="98.2" height="39.0" rx="5" fill="#efeeec"/><text x="695.6" y="697.0" font-size="18.6" textLength="63.2" lengthAdjust="spacingAndGlyphs" text-anchor="middle" fill="#3a3a3a" stroke="#3a3a3a" stroke-width="0.3" font-weight="bold">RM4,250</text><rect x="751.7" y="670.0" width="99.8" height="39.0" rx="5" fill="#efeeec"/><text x="800.9" y="697.0" font-size="18.6" textLength="63.2" lengthAdjust="spacingAndGlyphs" text-anchor="middle" fill="#3a3a3a" stroke="#3a3a3a" stroke-width="0.3" font-weight="bold">RM4,980</text><rect x="856.7" y="670.0" width="98.8" height="39.0" rx="5" fill="#efeeec"/><text x="907.1" y="697.0" font-size="18.6" textLength="63.2" lengthAdjust="spacingAndGlyphs" text-anchor="middle" fill="#3a3a3a" stroke="#3a3a3a" stroke-width="0.3" font-weight="bold">RM2,910</text><rect x="959.8" y="670.0" width="98.7" height="39.0" rx="5" fill="#efeeec"/><text x="1009.7" y="697.0" font-size="18.6" textLength="63.2" lengthAdjust="spacingAndGlyphs" text-anchor="middle" fill="#3a3a3a" stroke="#3a3a3a" stroke-width="0.3" font-weight="bold">RM2,250</text><rect x="124.3" y="710.3" width="98.3" height="39.0" rx="5" fill="#efeeec"/><text x="173.7" y="737.1" font-size="18.6" textLength="63.2" lengthAdjust="spacingAndGlyphs" text-anchor="middle" fill="#3a3a3a" stroke="#3a3a3a" stroke-width="0.3" font-weight="bold">RM1,730</text><rect x="228.8" y="710.3" width="97.0" height="39.0" rx="5" fill="#efeeec"/><text x="278.0" y="737.1" font-size="18.6" textLength="63.2" lengthAdjust="spacingAndGlyphs" text-anchor="middle" fill="#3a3a3a" stroke="#3a3a3a" stroke-width="0.3" font-weight="bold">RM2,270</text><rect x="332.0" y="710.3" width="98.0" height="39.0" rx="5" fill="#efeeec"/><text x="381.9" y="737.1" font-size="18.6" textLength="63.2" lengthAdjust="spacingAndGlyphs" text-anchor="middle" fill="#3a3a3a" stroke="#3a3a3a" stroke-width="0.3" font-weight="bold">RM4,010</text><rect x="436.7" y="710.3" width="97.0" height="39.0" rx="5" fill="#efeeec"/><text x="486.0" y="737.1" font-size="18.6" textLength="63.2" lengthAdjust="spacingAndGlyphs" text-anchor="middle" fill="#3a3a3a" stroke="#3a3a3a" stroke-width="0.3" font-weight="bold">RM5,140</text><rect x="543.8" y="713.5" width="97.9" height="39.0" rx="5" fill="#efeeec"/><text x="591.9" y="740.5" font-size="18.6" textLength="63.2" lengthAdjust="spacingAndGlyphs" text-anchor="middle" fill="#3a3a3a" stroke="#3a3a3a" stroke-width="0.3" font-weight="bold">RM5,850</text><rect x="647.8" y="713.5" width="98.2" height="39.0" rx="5" fill="#efeeec"/><text x="695.6" y="740.5" font-size="18.6" textLength="63.2" lengthAdjust="spacingAndGlyphs" text-anchor="middle" fill="#3a3a3a" stroke="#3a3a3a" stroke-width="0.3" font-weight="bold">RM4,020</text><rect x="751.7" y="713.5" width="99.8" height="39.0" rx="5" fill="#efeeec"/><text x="800.9" y="740.5" font-size="18.6" textLength="63.2" lengthAdjust="spacingAndGlyphs" text-anchor="middle" fill="#3a3a3a" stroke="#3a3a3a" stroke-width="0.3" font-weight="bold">RM4,720</text><rect x="856.7" y="713.5" width="98.8" height="39.0" rx="5" fill="#efeeec"/><text x="907.1" y="740.5" font-size="18.6" textLength="63.2" lengthAdjust="spacingAndGlyphs" text-anchor="middle" fill="#3a3a3a" stroke="#3a3a3a" stroke-width="0.3" font-weight="bold">RM2,830</text><rect x="959.8" y="713.5" width="98.7" height="39.0" rx="5" fill="#efeeec"/><text x="1009.7" y="740.5" font-size="18.6" textLength="63.2" lengthAdjust="spacingAndGlyphs" text-anchor="middle" fill="#3a3a3a" stroke="#3a3a3a" stroke-width="0.3" font-weight="bold">RM2,180</text><path d="M27.0,233.7 L108.5,233.7 L121.0,253.1 L108.5,272.5 L27.0,272.5 Q22.5,272.5 22.5,268.0 L22.5,238.2 Q22.5,233.7 27.0,233.7 Z" fill="#352f7c"/><text x="31" y="258.1" font-size="14" textLength="77" lengthAdjust="spacingAndGlyphs" fill="#eeeaf8" stroke="#eeeaf8" stroke-width="0.3" font-weight="bold">Lembah Klang</text><path d="M27.0,277.1 L108.5,277.1 L121.0,296.5 L108.5,315.9 L27.0,315.9 Q22.5,315.9 22.5,311.4 L22.5,281.6 Q22.5,277.1 27.0,277.1 Z" fill="#352f7c"/><text x="31" y="301.5" font-size="14" textLength="66.2" lengthAdjust="spacingAndGlyphs" fill="#eeeaf8" stroke="#eeeaf8" stroke-width="0.3" font-weight="bold">Johor Bahru</text><path d="M27.0,320.5 L108.5,320.5 L121.0,339.9 L108.5,359.3 L27.0,359.3 Q22.5,359.3 22.5,354.8 L22.5,325.0 Q22.5,320.5 27.0,320.5 Z" fill="#352f7c"/><text x="31" y="344.9" font-size="14" textLength="75.3" lengthAdjust="spacingAndGlyphs" fill="#eeeaf8" stroke="#eeeaf8" stroke-width="0.3" font-weight="bold">Kota Kinabalu</text><path d="M27.0,363.8 L108.5,363.8 L121.0,383.2 L108.5,402.6 L27.0,402.6 Q22.5,402.6 22.5,398.1 L22.5,368.3 Q22.5,363.8 27.0,363.8 Z" fill="#352f7c"/><text x="31" y="380.3" font-size="13.5" textLength="29.8" lengthAdjust="spacingAndGlyphs" fill="#eeeaf8" stroke="#eeeaf8" stroke-width="0.3" font-weight="bold">Kuala</text><text x="31" y="394.4" font-size="13.5" textLength="64" lengthAdjust="spacingAndGlyphs" fill="#eeeaf8" stroke="#eeeaf8" stroke-width="0.3" font-weight="bold">Terengganu</text><path d="M27.0,407.2 L108.5,407.2 L121.0,426.6 L108.5,446.0 L27.0,446.0 Q22.5,446.0 22.5,441.5 L22.5,411.7 Q22.5,407.2 27.0,407.2 Z" fill="#352f7c"/><text x="31" y="431.6" font-size="14" textLength="53.7" lengthAdjust="spacingAndGlyphs" fill="#eeeaf8" stroke="#eeeaf8" stroke-width="0.3" font-weight="bold">Alor Setar</text><path d="M27.0,450.6 L108.5,450.6 L121.0,470.0 L108.5,489.4 L27.0,489.4 Q22.5,489.4 22.5,484.9 L22.5,455.1 Q22.5,450.6 27.0,450.6 Z" fill="#352f7c"/><text x="31" y="475.0" font-size="14" textLength="44" lengthAdjust="spacingAndGlyphs" fill="#eeeaf8" stroke="#eeeaf8" stroke-width="0.3" font-weight="bold">Kuching</text><path d="M27.0,494.0 L108.5,494.0 L121.0,513.4 L108.5,532.8 L27.0,532.8 Q22.5,532.8 22.5,528.3 L22.5,498.5 Q22.5,494.0 27.0,494.0 Z" fill="#352f7c"/><text x="31" y="518.4" font-size="14" textLength="45.2" lengthAdjust="spacingAndGlyphs" fill="#eeeaf8" stroke="#eeeaf8" stroke-width="0.3" font-weight="bold">Kuantan</text><path d="M27.0,537.4 L108.5,537.4 L121.0,556.8 L108.5,576.2 L27.0,576.2 Q22.5,576.2 22.5,571.7 L22.5,541.9 Q22.5,537.4 27.0,537.4 Z" fill="#352f7c"/><text x="31" y="561.8" font-size="14" textLength="60.1" lengthAdjust="spacingAndGlyphs" fill="#eeeaf8" stroke="#eeeaf8" stroke-width="0.3" font-weight="bold">Kota Bharu</text><path d="M27.0,580.7 L108.5,580.7 L121.0,600.1 L108.5,619.5 L27.0,619.5 Q22.5,619.5 22.5,615.0 L22.5,585.2 Q22.5,580.7 27.0,580.7 Z" fill="#352f7c"/><text x="31" y="605.1" font-size="14" textLength="65.1" lengthAdjust="spacingAndGlyphs" fill="#eeeaf8" stroke="#eeeaf8" stroke-width="0.3" font-weight="bold">Georgetown</text><path d="M27.0,624.1 L108.5,624.1 L121.0,643.5 L108.5,662.9 L27.0,662.9 Q22.5,662.9 22.5,658.4 L22.5,628.6 Q22.5,624.1 27.0,624.1 Z" fill="#352f7c"/><text x="31" y="648.5" font-size="14" textLength="23.2" lengthAdjust="spacingAndGlyphs" fill="#eeeaf8" stroke="#eeeaf8" stroke-width="0.3" font-weight="bold">Ipoh</text><path d="M27.0,667.5 L108.5,667.5 L121.0,686.9 L108.5,706.3 L27.0,706.3 Q22.5,706.3 22.5,701.8 L22.5,672.0 Q22.5,667.5 27.0,667.5 Z" fill="#352f7c"/><text x="31" y="691.9" font-size="14" textLength="54.6" lengthAdjust="spacingAndGlyphs" fill="#eeeaf8" stroke="#eeeaf8" stroke-width="0.3" font-weight="bold">Seremban</text><path d="M27.0,710.9 L108.5,710.9 L121.0,730.3 L108.5,749.7 L27.0,749.7 Q22.5,749.7 22.5,745.2 L22.5,715.4 Q22.5,710.9 27.0,710.9 Z" fill="#352f7c"/><text x="31" y="735.3" font-size="14" textLength="77.3" lengthAdjust="spacingAndGlyphs" fill="#eeeaf8" stroke="#eeeaf8" stroke-width="0.3" font-weight="bold">Bandar Melaka</text><text x="173.6" y="152.6" font-size="16.6" textLength="54" lengthAdjust="spacingAndGlyphs" text-anchor="middle" fill="#3a3868" stroke="#3a3868" stroke-width="0.65" font-weight="bold">BUJANG</text><text x="173.5" y="166.5" font-size="12.2" textLength="56.1" lengthAdjust="spacingAndGlyphs" text-anchor="middle" fill="#b9474a" stroke="#b9474a" stroke-width="0.35" font-weight="bold">PENGGUNA</text><text x="173.5" y="178.6" font-size="12.2" textLength="84.1" lengthAdjust="spacingAndGlyphs" text-anchor="middle" fill="#b9474a" stroke="#b9474a" stroke-width="0.35" font-weight="bold">PENGANGKUTAN</text><text x="173.5" y="190.7" font-size="12.2" textLength="33.9" lengthAdjust="spacingAndGlyphs" text-anchor="middle" fill="#b9474a" stroke="#b9474a" stroke-width="0.35" font-weight="bold">AWAM</text><polygon points="157.9,204.5 189.9,204.5 173.9,221" fill="#c2c2c2"/><text x="277.6" y="152.6" font-size="16.6" textLength="53.2" lengthAdjust="spacingAndGlyphs" text-anchor="middle" fill="#3a3868" stroke="#3a3868" stroke-width="0.65" font-weight="bold">BUJANG</text><text x="277.3" y="166.5" font-size="12.2" textLength="41.9" lengthAdjust="spacingAndGlyphs" text-anchor="middle" fill="#b9474a" stroke="#b9474a" stroke-width="0.35" font-weight="bold">PEMILIK</text><text x="277.3" y="178.6" font-size="12.2" textLength="40" lengthAdjust="spacingAndGlyphs" text-anchor="middle" fill="#b9474a" stroke="#b9474a" stroke-width="0.35" font-weight="bold">KERETA</text><polygon points="261.9,204.5 293.9,204.5 277.9,221" fill="#c2c2c2"/><text x="381.5" y="152.6" font-size="16.6" textLength="73.4" lengthAdjust="spacingAndGlyphs" text-anchor="middle" fill="#3a3868" stroke="#3a3868" stroke-width="0.65" font-weight="bold">PASANGAN</text><text x="381.5" y="169.6" font-size="16.6" textLength="79.6" lengthAdjust="spacingAndGlyphs" text-anchor="middle" fill="#3a3868" stroke="#3a3868" stroke-width="0.65" font-weight="bold">BERKAHWIN</text><text x="381.5" y="185.0" font-size="12.2" textLength="33.9" lengthAdjust="spacingAndGlyphs" text-anchor="middle" fill="#b9474a" stroke="#b9474a" stroke-width="0.35" font-weight="bold">TANPA</text><text x="381.5" y="197.1" font-size="12.2" textLength="28.8" lengthAdjust="spacingAndGlyphs" text-anchor="middle" fill="#b9474a" stroke="#b9474a" stroke-width="0.35" font-weight="bold">ANAK</text><polygon points="365.1,204.5 397.1,204.5 381.1,221" fill="#c2c2c2"/><text x="485.4" y="152.6" font-size="16.6" textLength="73.1" lengthAdjust="spacingAndGlyphs" text-anchor="middle" fill="#3a3868" stroke="#3a3868" stroke-width="0.65" font-weight="bold">PASANGAN</text><text x="485.4" y="169.6" font-size="16.6" textLength="79.8" lengthAdjust="spacingAndGlyphs" text-anchor="middle" fill="#3a3868" stroke="#3a3868" stroke-width="0.65" font-weight="bold">BERKAHWIN</text><text x="485.6" y="185.0" font-size="12.2" textLength="48.7" lengthAdjust="spacingAndGlyphs" text-anchor="middle" fill="#b9474a" stroke="#b9474a" stroke-width="0.35" font-weight="bold">SEORANG</text><text x="485.6" y="197.1" font-size="12.2" textLength="28.3" lengthAdjust="spacingAndGlyphs" text-anchor="middle" fill="#b9474a" stroke="#b9474a" stroke-width="0.35" font-weight="bold">ANAK</text><polygon points="469.4,204.5 501.4,204.5 485.4,221" fill="#c2c2c2"/><text x="593.0" y="152.6" font-size="16.6" textLength="74" lengthAdjust="spacingAndGlyphs" text-anchor="middle" fill="#3a3868" stroke="#3a3868" stroke-width="0.65" font-weight="bold">PASANGAN</text><text x="593.0" y="169.6" font-size="16.6" textLength="80.4" lengthAdjust="spacingAndGlyphs" text-anchor="middle" fill="#3a3868" stroke="#3a3868" stroke-width="0.65" font-weight="bold">BERKAHWIN</text><text x="592.9" y="185.0" font-size="12.2" textLength="61" lengthAdjust="spacingAndGlyphs" text-anchor="middle" fill="#b9474a" stroke="#b9474a" stroke-width="0.35" font-weight="bold">DUA ORANG</text><text x="592.9" y="197.1" font-size="12.2" textLength="28.6" lengthAdjust="spacingAndGlyphs" text-anchor="middle" fill="#b9474a" stroke="#b9474a" stroke-width="0.35" font-weight="bold">ANAK</text><polygon points="576.6,204.5 608.6,204.5 592.6,221" fill="#c2c2c2"/><text x="696.3" y="152.6" font-size="16.6" textLength="64.3" lengthAdjust="spacingAndGlyphs" text-anchor="middle" fill="#3a3868" stroke="#3a3868" stroke-width="0.65" font-weight="bold">IBU/BAPA</text><text x="696.3" y="169.6" font-size="16.6" textLength="60.9" lengthAdjust="spacingAndGlyphs" text-anchor="middle" fill="#3a3868" stroke="#3a3868" stroke-width="0.65" font-weight="bold">TUNGGAL</text><text x="698.0" y="185.0" font-size="12.2" textLength="48.7" lengthAdjust="spacingAndGlyphs" text-anchor="middle" fill="#b9474a" stroke="#b9474a" stroke-width="0.35" font-weight="bold">SEORANG</text><text x="698.0" y="197.1" font-size="12.2" textLength="28.6" lengthAdjust="spacingAndGlyphs" text-anchor="middle" fill="#b9474a" stroke="#b9474a" stroke-width="0.35" font-weight="bold">ANAK</text><polygon points="680.6,204.5 712.6,204.5 696.6,221" fill="#c2c2c2"/><text x="800.6" y="152.6" font-size="16.6" textLength="64.3" lengthAdjust="spacingAndGlyphs" text-anchor="middle" fill="#3a3868" stroke="#3a3868" stroke-width="0.65" font-weight="bold">IBU/BAPA</text><text x="800.6" y="169.6" font-size="16.6" textLength="60.9" lengthAdjust="spacingAndGlyphs" text-anchor="middle" fill="#3a3868" stroke="#3a3868" stroke-width="0.65" font-weight="bold">TUNGGAL</text><text x="798.2" y="185.0" font-size="12.2" textLength="60.4" lengthAdjust="spacingAndGlyphs" text-anchor="middle" fill="#b9474a" stroke="#b9474a" stroke-width="0.35" font-weight="bold">DUA ORANG</text><text x="798.2" y="197.1" font-size="12.2" textLength="28.7" lengthAdjust="spacingAndGlyphs" text-anchor="middle" fill="#b9474a" stroke="#b9474a" stroke-width="0.35" font-weight="bold">ANAK</text><polygon points="784.7,204.5 816.7,204.5 800.7,221" fill="#c2c2c2"/><text x="906.4" y="152.6" font-size="16.6" textLength="49.7" lengthAdjust="spacingAndGlyphs" text-anchor="middle" fill="#3a3868" stroke="#3a3868" stroke-width="0.65" font-weight="bold">WARGA</text><text x="906.4" y="169.6" font-size="16.6" textLength="38" lengthAdjust="spacingAndGlyphs" text-anchor="middle" fill="#3a3868" stroke="#3a3868" stroke-width="0.65" font-weight="bold">EMAS</text><text x="905.3" y="185.0" font-size="12.2" textLength="56.5" lengthAdjust="spacingAndGlyphs" text-anchor="middle" fill="#b9474a" stroke="#b9474a" stroke-width="0.35" font-weight="bold">PASANGAN</text><polygon points="890.4,204.5 922.4,204.5 906.4,221" fill="#c2c2c2"/><text x="1009.5" y="152.6" font-size="16.6" textLength="50" lengthAdjust="spacingAndGlyphs" text-anchor="middle" fill="#3a3868" stroke="#3a3868" stroke-width="0.65" font-weight="bold">WARGA</text><text x="1009.5" y="169.6" font-size="16.6" textLength="38.3" lengthAdjust="spacingAndGlyphs" text-anchor="middle" fill="#3a3868" stroke="#3a3868" stroke-width="0.65" font-weight="bold">EMAS</text><text x="1007.5" y="185.0" font-size="12.2" textLength="45.9" lengthAdjust="spacingAndGlyphs" text-anchor="middle" fill="#b9474a" stroke="#b9474a" stroke-width="0.35" font-weight="bold">INDIVIDU</text><polygon points="992.9,204.5 1024.9,204.5 1008.9,221" fill="#c2c2c2"/>
</svg>
</body></html>
